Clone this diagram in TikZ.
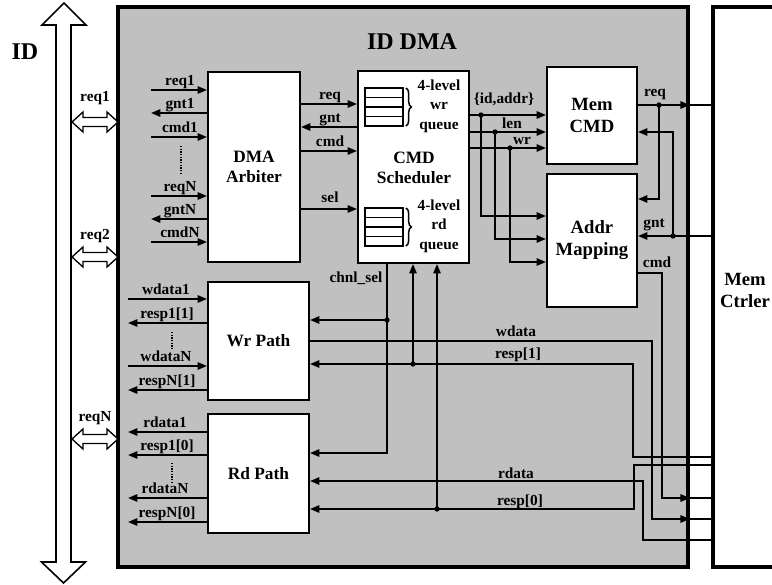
\documentclass[tikz,border=0pt]{standalone}
\usepackage{fontspec}
\setmainfont{Liberation Serif}
\usetikzlibrary{arrows.meta,decorations.pathreplacing,calc}
\definecolor{dmagray}{RGB}{192,192,192}
\begin{document}
\begin{tikzpicture}[x=0.75pt,y=-0.75pt,
  >={Triangle[length=7pt,width=5.5pt]},
  sig/.style={line width=1.3pt, draw=black},
  thinl/.style={line width=0.8pt, draw=black},
  box/.style={draw=black, line width=1.6pt, fill=white, inner sep=0pt, align=center,
    font=\fontsize{13}{15.5}\selectfont\bfseries},
  boxtext/.style={inner sep=0pt, align=center, font=\fontsize{13}{15.5}\selectfont\bfseries},
  sz/.style 2 args={minimum width=#1*0.75pt, minimum height=#2*0.75pt},
  lbl/.style={anchor=base, inner sep=0pt, font=\fontsize{11.5}{13}\selectfont\bfseries},
  qtext/.style={inner sep=0pt, align=center, font=\fontsize{11.5}{14.5}\selectfont\bfseries},
  jdot/.style={circle, fill=black, inner sep=0pt, minimum size=4pt},
  hollow/.style={draw=black, line width=1pt, fill=white},
  vdots/.style={line width=1pt, dash pattern=on 1pt off 1pt},
  qbox/.style={draw=black, line width=1.2pt, fill=white, inner sep=0pt},
]
\useasboundingbox (0,0) rectangle (772,585);

% big ID arrow
\draw[hollow, line width=1.2pt] (56,25) -- (42,25) -- (64,3) -- (86,25) -- (71,25) -- (71,562)
  -- (85.5,562) -- (63.5,583) -- (41.5,562) -- (56,562) -- cycle;
\node[anchor=base, inner sep=0pt, font=\fontsize{18}{20}\selectfont\bfseries] (idlbl) at (25,60) {ID};

% containers
\node[draw=black, line width=2.7pt, fill=dmagray, inner sep=0pt, sz={570}{560}] (dma) at (403,287) {};
\node[draw=black, line width=2.8pt, fill=white, inner sep=0pt, sz={70}{560}] (mc) at (748,287) {};
\node[boxtext, font=\fontsize{14}{16.5}\selectfont\bfseries] (mclbl) at (745,290) {Mem\\Ctrler};
\node[anchor=base, inner sep=0pt, font=\fontsize{18}{20}\selectfont\bfseries] (title) at (412,50) {ID DMA};

% hollow double arrows
\draw[hollow] (72,122) -- (83,112) -- (83,117.5) -- (107,117.5) -- (107,112) -- (118,122)
  -- (107,132) -- (107,126.5) -- (83,126.5) -- (83,132) -- cycle;
\draw[hollow] (72,257) -- (83,247) -- (83,252.5) -- (107,252.5) -- (107,247) -- (118,257)
  -- (107,267) -- (107,261.5) -- (83,261.5) -- (83,267) -- cycle;
\draw[hollow] (72,439) -- (83,429) -- (83,434.5) -- (107,434.5) -- (107,429) -- (118,439)
  -- (107,449) -- (107,443.5) -- (83,443.5) -- (83,449) -- cycle;
\node[lbl] (h1) at (95,102) {req1};
\node[lbl] (h2) at (95,239) {req2};
\node[lbl] (h3) at (95,421) {reqN};

% blocks
\node[box, sz={92}{190}] (arb) at (254,167) {DMA\\Arbiter};
\node[box, sz={111}{192}] (sch) at (413.5,167) {};
\node[boxtext] (schlbl) at (414,168) {CMD\\Scheduler};
\node[box, font=\fontsize{14}{16.5}\selectfont\bfseries, sz={90}{97}] (mcmd) at (592,115.5) {Mem\\CMD};
\node[box, font=\fontsize{14}{16.5}\selectfont\bfseries, sz={90}{133}] (addr) at (592,240.5) {Addr\\Mapping};
\node[box, sz={101}{118}] (wrp) at (258.5,341) {Wr Path};
\node[box, sz={101}{119}] (rdp) at (258.5,473.5) {Rd Path};

% queues
\node[qbox, sz={38}{38}] (wq) at (384,107) {};
\foreach \yy in {97.5,107,116.5} \draw[line width=1.2pt] (wq.west |- 0,\yy) -- (wq.east |- 0,\yy);
\draw[decorate, decoration={brace, amplitude=4pt}, line width=1.1pt] (406,88) -- (406,126);
\node[qtext] (wqt) at (439,106) {4-level\\wr\\queue};
\node[qbox, sz={38}{38}] (rq) at (384,227) {};
\foreach \yy in {217.5,227,236.5} \draw[line width=1.2pt] (rq.west |- 0,\yy) -- (rq.east |- 0,\yy);
\draw[decorate, decoration={brace, amplitude=4pt}, line width=1.1pt] (406,208) -- (406,246);
\node[qtext] (rqt) at (439,226) {4-level\\rd\\queue};

% arbiter left side
\coordinate (a1) at (151,90);  \draw[sig,->] (a1) -- (a1 -| arb.west);
\coordinate (a2) at (151,113); \draw[sig,<-] (a2) -- (a2 -| arb.west);
\coordinate (a3) at (151,137); \draw[sig,->] (a3) -- (a3 -| arb.west);
\coordinate (a4) at (151,196); \draw[sig,->] (a4) -- (a4 -| arb.west);
\coordinate (a5) at (151,219); \draw[sig,<-] (a5) -- (a5 -| arb.west);
\coordinate (a6) at (151,242); \draw[sig,->] (a6) -- (a6 -| arb.west);
\draw[vdots] (181,146) -- (181,173);
\node[lbl] at (180,85.5) {req1};
\node[lbl] at (180,108.5) {gnt1};
\node[lbl] at (180,132.5) {cmd1};
\node[lbl] at (180,191.5) {reqN};
\node[lbl] at (180,214.5) {gntN};
\node[lbl] at (180,237.5) {cmdN};

% wr path left side
\coordinate (w1) at (128,299); \draw[sig,->] (w1) -- (w1 -| wrp.west);
\coordinate (w2) at (128,323); \draw[sig,<-] (w2) -- (w2 -| wrp.west);
\coordinate (w3) at (128,366); \draw[sig,->] (w3) -- (w3 -| wrp.west);
\coordinate (w4) at (128,390); \draw[sig,<-] (w4) -- (w4 -| wrp.west);
\draw[vdots] (172,332) -- (172,350);
\node[lbl] at (166,294.5) {wdata1};
\node[lbl] at (167,318.5) {resp1[1]};
\node[lbl] at (166,361.5) {wdataN};
\node[lbl] at (167,385.5) {respN[1]};

% rd path left side
\coordinate (r1) at (128,432); \draw[sig,<-] (r1) -- (r1 -| rdp.west);
\coordinate (r2) at (128,455); \draw[sig,<-] (r2) -- (r2 -| rdp.west);
\coordinate (r3) at (128,498); \draw[sig,<-] (r3) -- (r3 -| rdp.west);
\coordinate (r4) at (128,522); \draw[sig,<-] (r4) -- (r4 -| rdp.west);
\draw[vdots] (172,463) -- (172,482);
\node[lbl] at (165,427.5) {rdata1};
\node[lbl] at (167,450.5) {resp1[0]};
\node[lbl] at (165,493.5) {rdataN};
\node[lbl] at (167,517.5) {respN[0]};

% arbiter <-> scheduler
\draw[sig,->] (arb.east |- 0,104) -- (sch.west |- 0,104);
\draw[sig,<-] (arb.east |- 0,127) -- (sch.west |- 0,127);
\draw[sig,->] (arb.east |- 0,151) -- (sch.west |- 0,151);
\draw[sig,->] (arb.east |- 0,209) -- (sch.west |- 0,209);
\node[lbl] at (330,99.5) {req};
\node[lbl] at (330,122.5) {gnt};
\node[lbl] at (330,146.5) {cmd};
\node[lbl] at (330,202) {sel};

% scheduler -> Mem CMD / Addr Mapping
\draw[sig,->] (sch.east |- 0,115) -- (mcmd.west |- 0,115);
\draw[sig,->] (sch.east |- 0,132) -- (mcmd.west |- 0,132);
\draw[sig,->] (sch.east |- 0,148) -- (mcmd.west |- 0,148);
\node[jdot] (d1) at (481,115) {};
\node[jdot] (d2) at (495,132) {};
\node[jdot] (d3) at (510,148) {};
\draw[sig,->] (d1.center) |- (addr.west |- 0,216);
\draw[sig,->] (d2.center) |- (addr.west |- 0,239);
\draw[sig,->] (d3.center) |- (addr.west |- 0,262);
\node[lbl] at (504,104) {\{id,addr\}};
\node[lbl] at (512,128) {len};
\node[lbl] at (522,145) {wr};

% Mem CMD / Addr Mapping <-> Mem Ctrler
\draw[sig,->] (mcmd.east |- 0,105) -- (dma.east |- 0,105);
\draw[thinl] (dma.east |- 0,105) -- (mc.west |- 0,105);
\node[jdot] (d4) at (659,105) {};
\draw[sig,->] (d4.center) |- (addr.east |- 0,199);
\draw[thinl] (mc.west |- 0,236) -- (dma.east |- 0,236);
\draw[sig,->] (dma.east |- 0,236) -- (addr.east |- 0,236);
\node[jdot] (d5) at (673,236) {};
\draw[sig,->] (d5.center) |- (mcmd.east |- 0,132);
\draw[sig,->] (addr.east |- 0,273) -| (662,498) -- (dma.east |- 0,498);
\draw[thinl] (dma.east |- 0,498) -- (mc.west |- 0,498);
\node[lbl] at (655,97) {req};
\node[lbl] at (654,227) {gnt};
\node[lbl] at (657,267) {cmd};

% scheduler bottom
\draw[sig,->] (sch.south -| 387,0) |- (rdp.east |- 0,453);
\node[jdot] (d6) at (387,320) {};
\draw[sig,->] (d6.center) -- (wrp.east |- d6);
\node[jdot] (d7) at (413,364) {};
\draw[sig,->] (d7.center) -- (sch.south -| d7);
\node[jdot] (d8) at (437,509) {};
\draw[sig,->] (d8.center) -- (sch.south -| d8);
\node[lbl] at (356,282) {chnl\_sel};

% data paths to Mem Ctrler
\draw[sig,->] (wrp.east |- 0,341) -| (652,519) -- (dma.east |- 0,519);
\draw[thinl] (dma.east |- 0,519) -- (mc.west |- 0,519);
\draw[thinl] (mc.west |- 0,457) -- (dma.east |- 0,457);
\draw[sig,->] (dma.east |- 0,457) -- (633,457) |- (wrp.east |- 0,364);
\draw[thinl] (mc.west |- 0,465) -- (dma.east |- 0,465);
\draw[sig,->] (dma.east |- 0,465) -- (634,465) |- (rdp.east |- 0,509);
\draw[thinl] (mc.west |- 0,540) -- (dma.east |- 0,540);
\draw[sig,->] (dma.east |- 0,540) -- (643,540) |- (rdp.east |- 0,481);
\node[lbl] at (516,336) {wdata};
\node[lbl] at (518,358) {resp[1]};
\node[lbl] at (516,478.5) {rdata};
\node[lbl] at (520,505) {resp[0]};
\end{tikzpicture}
\end{document}
